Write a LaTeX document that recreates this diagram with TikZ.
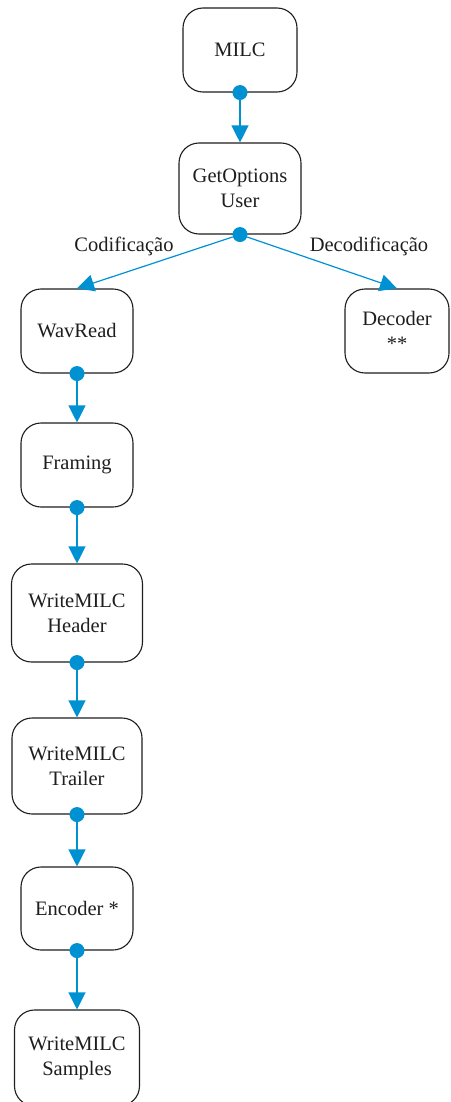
\documentclass[tikz,border=0pt]{standalone}
\usepackage{fontspec}
\setmainfont{Liberation Serif}
\usetikzlibrary{arrows.meta}
\definecolor{flow}{RGB}{0,145,210}
\definecolor{ink}{RGB}{30,30,30}
\tikzset{
  proc/.style={draw=ink, line width=1.1pt, rounded corners=20pt, fill=white,
    text=ink, align=center, inner sep=0pt, font=\fontsize{20.5}{25}\selectfont},
  port/.style={circle, fill=flow, draw=none, minimum size=15pt, inner sep=0pt},
  link/.style={draw=flow, line width=1.2pt, -{Triangle[width=17pt,length=17pt]}},
  tag/.style={text=ink, font=\fontsize{20.5}{25}\selectfont, inner sep=0pt}
}
\begin{document}
\begin{tikzpicture}[x=1pt, y=-1pt]
\useasboundingbox (0,0) rectangle (450,1102);
\begin{scope}
\clip (0,0) rectangle (450,1102);
% process boxes
\node[proc, minimum width=114pt, minimum height=84pt] (milc) at (240,50) {MILC};
\node[proc, minimum width=122pt, minimum height=91pt] (getopt) at (240,188.5) {GetOptions\\User};
\node[proc, minimum width=112pt, minimum height=84pt] (wav) at (77,331) {WavRead};
\node[proc, minimum width=104pt, minimum height=84pt] (dec) at (397,331) {Decoder\\**};
\node[proc, minimum width=112pt, minimum height=84pt] (frm) at (77,465) {Framing};
\node[proc, minimum width=131pt, minimum height=98pt] (hdr) at (77,613) {WriteMILC\\Header};
\node[proc, minimum width=130pt, minimum height=96pt] (trl) at (77,766) {WriteMILC\\Trailer};
\node[proc, minimum width=112pt, minimum height=83pt] (enc) at (77,908.5) {Encoder *};
\node[proc, minimum width=125pt, minimum height=96pt] (smp) at (77,1058) {WriteMILC\\Samples};

% output ports
\node[port] (milc-o) at (milc.south) {};
\node[port] (getopt-o) at (getopt.south) {};
\node[port] (wav-o) at (wav.south) {};
\node[port] (frm-o) at (frm.south) {};
\node[port] (hdr-o) at (hdr.south) {};
\node[port] (trl-o) at (trl.south) {};
\node[port] (enc-o) at (enc.south) {};

% connectors
\draw[link] (milc-o) -- (getopt.north);
\draw[link] (getopt-o) -- (wav.north);
\draw[link] (getopt-o) -- (dec.north);
\draw[link] (wav-o) -- (frm.north);
\draw[link] (frm-o) -- (hdr.north);
\draw[link] (hdr-o) -- (trl.north);
\draw[link] (trl-o) -- (enc.north);
\draw[link] (enc-o) -- (smp.north);

% branch labels
\node[tag] (cod) at (124,246) {Codificação};
\node[tag] (decod) at (369,246) {Decodificação};
\end{scope}
\end{tikzpicture}
\end{document}
